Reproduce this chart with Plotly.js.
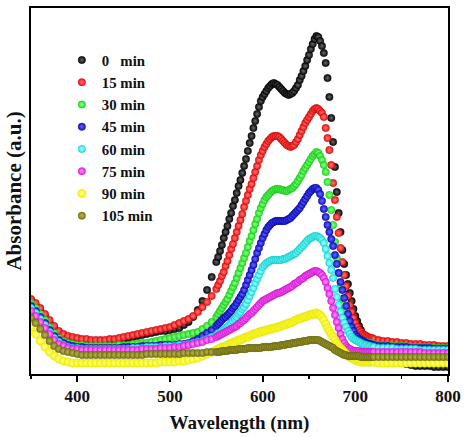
<!DOCTYPE html>
<html>
<head>
<meta charset="utf-8">
<script src="https://cdn.plot.ly/plotly-3.0.1.min.js"></script>
<style>html,body{margin:0;padding:0;background:#fff;}#chart{width:474px;height:437px;}</style>
</head>
<body>
<div id="chart"></div>
<script>
// Wavelength grid (nm)
const wavelength = [
350,355,360,365,370,375,380,385,390,395,400,405,410,415,420,425,430,435,440,445,450,455,460,465,470,475,480,485,490,495,500,505,510,515,520,525,530,535,540,545,550,
552,554,556,558,560,562,564,566,568,570,572,574,576,578,580,582,584,586,588,590,592,594,596,598,600,602,604,606,608,610,612,614,616,618,620,622,624,626,628,630,632,634,636,638,640,642,644,646,648,650,652,654,656,658,660,662,664,666,668,670,672,674,676,678,680,682,684,686,688,690,692,694,696,698,700,702,704,706,708,710,712,714,716,718,720,
725,730,735,740,745,750,755,760,765,770,775,780,785,790,795,800];

// Series labels
const seriesNames = ["0\u00a0\u00a0\u00a0min","15 min","30 min","45 min","60 min","75 min","90 min","105 min"];

// Absorbance (a.u.) for each irradiation time
const abs0 = [74,69,64,58,52,46,42,39,37,36,35,34,34,33,33,33,33,33,34,34,35,36,37,38,39,40,41,42,43,43,44,45,46,49,52,57,64,73,84,97,112,
117,123,129,136,142,148,155,161,168,174,181,188,194,201,208,215,223,231,238,246,253,260,267,273,277,280,283,286,288,290,291,290,289,287,285,283,281,280,279,280,281,283,286,289,294,298,303,308,314,319,325,330,335,338,337,333,328,321,311,296,277,256,232,207,182,161,142,124,110,99,90,81,73,65,58,53,48,44,40,37,34,32,30,28,26,
22,19,16,14,12,11,10,9,8,8,8,8,7,7,7,7];
const abs15 = [75,71,66,60,54,48,43,40,38,37,36,35,35,34,34,34,34,35,35,36,37,38,39,40,41,42,43,44,45,46,47,49,51,53,55,58,62,67,72,78,85,
89,93,98,102,108,113,119,125,130,136,142,148,154,160,167,173,179,185,190,196,202,208,214,219,223,227,230,233,235,237,238,238,238,237,235,233,231,229,228,227,228,229,232,235,239,243,247,251,254,257,260,263,265,266,265,263,261,257,246,236,224,209,191,174,157,141,126,112,99,88,78,69,62,56,51,47,44,42,40,39,38,37,36,36,35,
34,33,33,32,32,31,31,30,30,30,29,29,29,28,28,28];
const abs30 = [71,66,60,54,47,41,36,33,31,30,29,29,28,28,28,28,28,28,28,29,29,29,30,30,31,31,32,33,34,35,36,37,38,39,40,41,42,45,48,52,57,
60,63,66,69,72,75,79,83,87,91,96,101,106,111,116,121,127,133,138,144,150,155,161,166,170,174,177,179,181,183,184,185,185,185,184,184,183,183,184,185,186,188,190,193,196,199,203,206,209,212,215,218,220,222,221,218,214,209,202,192,179,164,149,132,116,101,87,75,65,57,51,46,43,40,38,36,35,34,33,32,32,31,31,30,30,
29,29,29,28,28,28,28,27,27,27,27,27,26,26,26,26];
const abs45 = [68,63,57,51,44,38,34,31,29,28,27,27,26,26,26,26,26,26,26,26,27,27,27,27,28,28,28,28,29,29,29,29,30,30,31,33,35,38,41,44,48,
50,52,54,56,57,59,61,63,66,68,71,74,77,80,84,89,94,99,104,109,115,121,126,131,136,140,144,147,149,151,152,153,153,153,153,153,153,154,155,156,158,160,162,164,166,169,172,175,178,181,183,185,186,186,184,180,173,165,157,149,142,135,128,119,110,101,92,84,76,68,60,53,47,43,39,37,35,34,33,32,31,30,30,29,29,
28,28,28,27,27,27,27,26,26,26,26,26,25,25,25,25];
const abs60 = [66,61,55,49,42,36,32,29,27,26,26,25,25,25,25,25,25,25,25,25,25,25,26,26,26,27,27,27,27,28,28,28,29,29,30,31,32,33,35,37,39,
40,41,43,44,46,47,49,51,53,55,57,60,62,65,67,70,74,78,82,86,91,95,99,103,107,109,111,112,113,114,114,114,114,114,114,115,115,116,117,118,119,120,121,123,125,127,129,131,133,135,136,137,138,138,137,136,134,131,125,118,111,104,96,85,77,69,62,56,51,47,43,40,37,35,34,33,32,31,30,29,29,28,28,27,27,
26,26,26,26,25,25,25,25,25,24,24,24,24,24,24,24];
const abs75 = [63,58,52,46,40,34,30,28,26,25,25,24,24,24,24,24,24,24,24,24,24,24,24,24,25,25,25,25,26,26,26,27,27,28,29,30,31,32,34,35,37,
38,39,40,41,42,43,44,45,46,47,48,50,51,53,54,56,58,60,61,63,65,67,69,71,73,74,75,76,77,78,79,80,81,81,82,83,84,85,86,87,88,90,91,92,94,95,96,98,99,100,101,102,103,103,102,101,99,96,92,86,80,73,66,59,52,46,40,35,31,28,26,25,24,23,23,23,23,22,22,22,22,22,22,22,22,
22,22,22,22,22,22,22,22,22,22,21,21,21,21,21,21];
const abs90 = [47,40,33,27,22,18,15,13,12,11,11,11,11,11,11,11,11,11,11,11,11,11,11,11,11,11,11,11,12,12,12,12,13,13,14,15,16,18,20,22,24,
25,26,27,27,28,29,30,31,31,32,33,34,34,35,36,37,37,38,39,40,40,41,42,42,43,43,44,44,45,45,46,46,47,47,48,49,49,50,51,51,52,53,54,55,55,56,57,57,58,59,59,60,60,61,60,59,57,54,50,46,43,40,37,34,31,28,26,24,22,20,18,17,16,15,14,13,13,12,12,12,12,12,12,12,12,
11,11,11,11,11,11,11,11,11,11,11,11,11,11,11,11];
const abs105 = [56,51,45,39,33,28,25,23,22,21,20,19,19,19,19,19,19,19,19,19,19,19,19,19,19,20,20,20,20,20,20,20,20,21,21,21,21,21,22,22,22,
22,22,23,23,23,23,24,24,24,24,24,25,25,25,25,25,26,26,26,26,26,26,26,26,27,27,27,27,27,27,28,28,28,28,29,29,29,30,30,30,31,31,31,32,32,32,33,33,33,34,34,34,34,34,34,33,32,31,30,29,28,27,26,24,23,22,21,20,19,19,18,18,18,18,18,18,18,17,17,17,17,17,17,17,17,
17,17,17,17,17,17,17,17,17,17,17,17,17,17,17,17];

const seriesValues = [abs0, abs15, abs30, abs45, abs60, abs75, abs90, abs105];

// Styles
const colors   = ["#050505","#ee1010","#22e022","#1010c8","#20e8e8","#e820e8","#f4f400","#7d7a10"];
const glows    = ["#6a6a6a","#ff7a7a","#8cff8c","#6a6aff","#b0ffff","#ff96ff","#ffff9a","#b8b55a"];
const edges    = ["#000000","#a00000","#10a010","#000080","#10a0a0","#a010a0","#d4d400","#55530a"];
const sizes    = [7.5,7.5,7.5,7.5,7.5,7.5,8.5,7.5];

const FONT = "Liberation Serif, Times New Roman, serif";

const traces = seriesValues.map((vals, i) => ({
  type: "scatter",
  mode: "markers",
  x: wavelength,
  y: vals,
  name: seriesNames[i],
  marker: {
    size: sizes[i],
    color: colors[i],
    gradient: {type: "radial", color: glows[i]},
    line: {width: 0.3, color: edges[i]}
  },
  hoverinfo: "skip"
}));

const layout = {
  width: 474, height: 437,
  margin: {l: 31, r: 26, t: 8, b: 63},
  paper_bgcolor: "#ffffff",
  plot_bgcolor: "#ffffff",
  showlegend: true,
  legend: {
    x: 0.074, y: 0.902, xanchor: "left", yanchor: "top",
    bgcolor: "rgba(0,0,0,0)", borderwidth: 0,
    font: {family: FONT, size: 14.8, color: "#111", weight: "bold"},
    itemclick: false, itemdoubleclick: false
  },
  xaxis: {
    range: [350, 800], dtick: 100, tick0: 400,
    ticks: "outside", ticklen: 6, tickwidth: 2, tickcolor: "#000",
    minor: {dtick: 50, tick0: 350, ticks: "outside", ticklen: 3, tickwidth: 1.5, tickcolor: "#000", showgrid: false},
    showline: true, linewidth: 2, linecolor: "#000", mirror: true,
    showgrid: false, zeroline: false,
    tickfont: {family: FONT, size: 17, color: "#111", weight: "bold"},
    ticklabelstandoff: 0,
    title: {text: "Wavelength (nm)", font: {family: FONT, size: 19, color: "#111", weight: "bold"}, standoff: 10}
  },
  yaxis: {
    range: [0, 366],
    showticklabels: false, ticks: "",
    showline: true, linewidth: 2, linecolor: "#000", mirror: true,
    showgrid: false, zeroline: false,
    title: {text: "Absorbance (a.u.)", font: {family: FONT, size: 21, color: "#111", weight: "bold"}, standoff: 2}
  }
};

Plotly.newPlot("chart", traces, layout, {staticPlot: true, displayModeBar: false});
</script>
</body>
</html>
